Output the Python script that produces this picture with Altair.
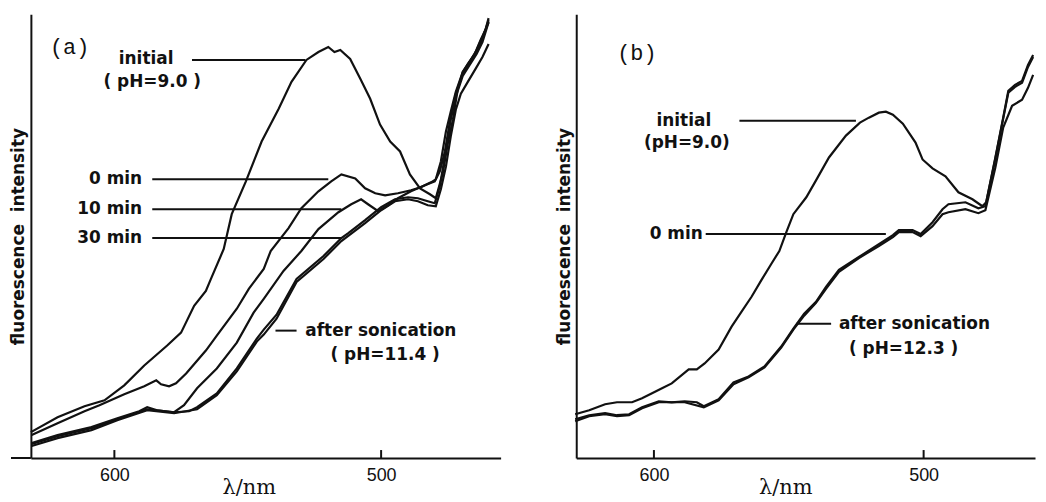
import altair as alt
import pandas as pd

INK = "#111111"

# ---------------- Panel (a): wavelength (nm) and intensity (a.u.) ----------------
A_INIT_WL = [631.3, 621.3, 611.2, 603.7, 596.3, 588.8, 580.2, 575.0, 570.1, 565.7,
             563.8, 559.0, 556.0, 550.7, 544.8, 538.4, 533.6, 528.0, 523.5, 519.8,
             517.5, 515.3, 511.6, 507.8, 504.1, 500.4, 496.6, 492.9, 489.2, 485.4,
             481.7, 479.5, 476.9, 475.0, 473.1, 471.3, 469.4, 467.5, 464.9, 462.7,
             460.8, 459.7]
A_INIT_I = [26, 41, 52, 58, 73, 93, 113, 126, 153, 168,
            180, 210, 245, 278, 318, 351, 378, 400, 408, 413,
            408, 410, 401, 381, 361, 335, 318, 308, 285, 271,
            265, 261, 286, 316, 340, 370, 388, 396, 406, 420,
            431, 442]

A_0MIN_WL = [631.0, 621.3, 611.2, 605.6, 596.3, 588.8, 584.3, 582.5, 579.5, 576.9,
             573.1, 565.7, 561.6, 554.1, 549.6, 544.0, 541.4, 534.7, 529.9, 523.5,
             518.7, 514.9, 509.7, 506.0, 502.2, 498.5, 493.7, 488.8, 485.1, 481.3,
             479.5, 477.6, 475.7, 473.9, 472.0, 469.4, 466.8, 464.2, 462.0, 459.7]
A_0MIN_I = [23, 35, 47, 53, 64, 72, 78, 74, 72, 75,
            85, 108, 123, 150, 170, 190, 208, 231, 251, 268,
            278, 285, 281, 271, 266, 264, 266, 269, 272, 277,
            280, 298, 328, 348, 368, 388, 398, 410, 423, 438]

A_10MIN_WL = [631.0, 621.3, 608.6, 598.9, 587.7, 584.0, 577.6, 573.9, 569.0, 561.6,
              554.1, 547.8, 544.0, 536.6, 529.9, 523.5, 516.0, 511.2, 507.5, 504.9,
              501.1, 497.4, 493.7, 488.8, 483.6, 479.9, 478.0, 476.1, 473.9, 472.0,
              469.4, 466.8, 464.2, 462.0, 459.7]
A_10MIN_I = [14, 22, 30, 39, 49, 48, 46, 53, 70, 90,
             116, 146, 160, 188, 208, 230, 247, 255, 260, 255,
             248, 254, 261, 268, 274, 278, 288, 308, 343, 366,
             386, 398, 408, 421, 440]

A_30MIN_WL = [631.0, 621.3, 608.6, 598.9, 590.7, 587.7, 584.0, 577.6, 572.0, 569.0,
              561.6, 554.1, 546.6, 544.0, 539.2, 531.7, 521.6, 514.9, 512.3, 506.0,
              500.0, 494.8, 489.9, 486.2, 482.5, 479.9, 478.0, 476.1, 473.9, 472.0,
              469.4, 466.8, 464.2, 462.0, 459.7]
A_30MIN_I = [15, 23, 31, 40, 47, 51, 48, 46, 47, 51,
             65, 90, 120, 129, 144, 180, 203, 221, 226, 239,
             252, 260, 262, 261, 258, 256, 273, 303, 340, 363,
             384, 395, 406, 418, 438]

A_SON_WL = [631.0, 621.3, 608.6, 598.9, 587.7, 577.6, 569.0, 561.6, 554.1, 546.6,
            544.0, 539.2, 531.7, 521.6, 514.9, 506.0, 500.0, 494.8, 489.9, 486.2,
            482.5, 479.5, 477.6, 475.7, 473.9, 472.0, 470.1, 467.5, 464.6, 462.0,
            459.7]
A_SON_I = [12, 20, 28, 38, 48, 45, 49, 63, 87, 117,
           124, 140, 177, 200, 218, 236, 249, 258, 260, 258,
           254, 253, 270, 293, 323, 350, 366, 378, 391, 403,
           416]

# ---------------- Panel (b) ----------------
B_INIT_WL = [629.2, 624.0, 618.1, 613.7, 608.1, 604.4, 600.7, 597.0, 593.4, 587.1,
             584.1, 581.2, 576.0, 571.2, 567.5, 563.8, 560.1, 556.5, 553.5, 550.9,
             548.3, 543.5, 539.9, 535.1, 528.8, 523.6, 520.3, 516.6, 514.0, 511.4,
             507.7, 503.0, 500.4, 496.7, 491.9, 487.1, 481.9, 478.2, 476.8, 473.4,
             470.5, 468.6, 466.1, 463.5, 461.3, 459.4]
B_INIT_I = [44, 48, 54, 56, 56, 60, 65, 70, 75, 89,
            89, 95, 109, 132, 147, 162, 179, 195, 208, 227,
            245, 262, 279, 302, 324, 337, 342, 347, 348, 345,
            336, 317, 300, 291, 283, 267, 260, 253, 257, 302,
            342, 369, 375, 379, 395, 405]

B_0MIN_WL = [629.2, 624.0, 618.1, 613.7, 609.2, 604.4, 598.2, 593.4, 588.6, 584.1,
             581.5, 576.0, 570.5, 564.9, 559.0, 552.8, 548.3, 544.3, 539.9, 536.2,
             531.4, 524.0, 516.6, 511.4, 509.2, 504.1, 501.1, 496.7, 493.0, 490.8,
             484.5, 479.7, 477.1, 473.4, 470.5, 468.6, 466.1, 463.5, 461.3, 459.4]
B_0MIN_I = [39, 43, 45, 43, 44, 51, 57, 56, 57, 56,
            52, 59, 76, 82, 92, 112, 130, 145, 157, 172,
            189, 202, 215, 224, 229, 229, 225, 237, 250, 255,
            257, 251, 253, 301, 341, 367, 373, 377, 393, 403]

B_SON_WL = [629.2, 624.0, 618.1, 613.7, 609.2, 604.4, 598.2, 588.6, 581.5, 576.0,
            570.5, 564.9, 559.0, 552.8, 548.3, 544.3, 539.9, 536.2, 531.4, 524.0,
            516.6, 511.4, 509.2, 504.1, 501.1, 496.7, 493.0, 490.8, 484.5, 479.7,
            477.1, 473.4, 470.5, 467.2, 463.5, 461.3, 459.4]
B_SON_I = [37, 42, 44, 42, 43, 50, 56, 56, 51, 58,
           74, 81, 91, 111, 129, 143, 156, 170, 187, 201,
           213, 222, 227, 227, 223, 233, 245, 247, 250, 246,
           249, 292, 332, 354, 360, 372, 385]

TICK_VALUES = [600, 500]

# annotations (label, wavelength, intensity)
A_TEXT_CENTER = [("initial", 588.1, 401), ("( pH=9.0 )", 585.8, 378), ("( pH=11.4 )", 498.5, 103)]
A_TEXT_RIGHT = [("0 min", 589.6, 280), ("10 min", 589.6, 250), ("30 min", 589.6, 221)]
A_TEXT_LEFT = [("after sonication", 528.4, 128)]
A_TAG = [("(a)", 616.8, 413)]
A_SEGS = [(570.9, 528.4, 400), (585.8, 519.8, 280), (585.8, 514.9, 250),
          (585.8, 514.9, 221), (539.6, 531.7, 128)]

B_TEXT_CENTER = [("initial", 588.9, 339), ("(pH=9.0)", 587.8, 317), ("( pH=12.3 )", 507.4, 110)]
B_TEXT_RIGHT = [("0 min", 581.9, 225)]
B_TEXT_LEFT = [("after sonication", 531.4, 135)]
B_TAG = [("(b)", 606.3, 407)]
B_SEGS = [(568.3, 525.1, 339), (580.8, 514.0, 225), (547.2, 534.3, 135)]

H = 446


def curves_df(curves):
    rows = []
    for name, wl, it in curves:
        assert len(wl) == len(it), name
        for w, i in zip(wl, it):
            rows.append({"curve": name, "wl": w, "I": i})
    return pd.DataFrame(rows)


def text_df(items):
    return pd.DataFrame([{"label": t, "wl": w, "I": i} for t, w, i in items])


def panel(curves, dom, width, tc, tr, tl, tag, segs, title_x, extend_left):
    xs = alt.Scale(domain=dom, reverse=True, nice=False, zero=False)
    ys = alt.Scale(domain=[0, H], nice=False, zero=False)
    xax = alt.Axis(values=TICK_VALUES, ticks=False, tickSize=0, labelPadding=9,
                   labelFont="Liberation Sans", labelFontSize=18, labelColor=INK,
                   domainColor=INK, domainWidth=2, grid=False, title="λ/nm",
                   titleFont="DejaVu Serif", titleFontSize=21, titleFontWeight="normal",
                   titleColor=INK, titleX=title_x, titleY=36, titleBaseline="alphabetic",
                   titleAlign="center")
    yax = alt.Axis(labels=False, ticks=False, tickSize=0, grid=False, domainColor=INK,
                   domainWidth=2, title="fluorescence\u00a0\u00a0intensity",
                   titleFont="DejaVu Sans", titleFontSize=17, titleFontWeight="bold",
                   titleColor=INK, titlePadding=3)
    X = alt.X("wl:Q", scale=xs, axis=xax)
    Y = alt.Y("I:Q", scale=ys, axis=yax)

    lines = alt.Chart(curves_df(curves)).mark_line(color=INK, strokeWidth=2.2).encode(
        x=X, y=Y, detail="curve:N")

    sdf = pd.DataFrame([{"wl": a, "wl2": b, "I": i} for a, b, i in segs])
    seg = alt.Chart(sdf).mark_rule(color=INK, strokeWidth=2).encode(x=X, x2="wl2:Q", y=Y)

    tdf = pd.DataFrame({"wl": TICK_VALUES})
    ticks = alt.Chart(tdf).mark_rule(color=INK, strokeWidth=2).encode(
        x=X, y=alt.value(H), y2=alt.value(H - 8))

    def txt(items, align):
        return alt.Chart(text_df(items)).mark_text(
            align=align, baseline="middle", font="DejaVu Sans", fontSize=17,
            fontWeight="bold", color=INK
        ).encode(x=X, y=Y, text="label:N")

    tagc = alt.Chart(text_df(tag)).mark_text(
        align="center", baseline="middle", font="Liberation Mono", fontSize=22, color=INK
    ).encode(x=X, y=Y, text="label:N")

    layers = [lines, seg, ticks, txt(tc, "center"), txt(tr, "right"), txt(tl, "left"), tagc]
    if extend_left:
        ext = alt.Chart(pd.DataFrame({"k": [0]})).mark_rule(color=INK, strokeWidth=2).encode(
            x=alt.value(-20), x2=alt.value(0), y=alt.value(H))
        layers.append(ext)
    return alt.layer(*layers).properties(width=width, height=H)


pa = panel([("initial", A_INIT_WL, A_INIT_I), ("0 min", A_0MIN_WL, A_0MIN_I),
            ("10 min", A_10MIN_WL, A_10MIN_I), ("30 min", A_30MIN_WL, A_30MIN_I),
            ("after sonication", A_SON_WL, A_SON_I)],
           [455.2, 631.3], 472, A_TEXT_CENTER, A_TEXT_RIGHT, A_TEXT_LEFT, A_TAG, A_SEGS,
           219, True)
pb = panel([("initial", B_INIT_WL, B_INIT_I), ("0 min", B_0MIN_WL, B_0MIN_I),
            ("after sonication", B_SON_WL, B_SON_I)],
           [458.7, 628.8], 461, B_TEXT_CENTER, B_TEXT_RIGHT, B_TEXT_LEFT, B_TAG, B_SEGS,
           210, False)

chart = alt.hconcat(pa, pb, spacing=55).properties(
    padding={"left": 2, "top": 4, "right": 0, "bottom": 0},
    background="white",
).configure_view(stroke=None)

chart.save("out.html", embed_options={"renderer": "svg", "actions": False})
